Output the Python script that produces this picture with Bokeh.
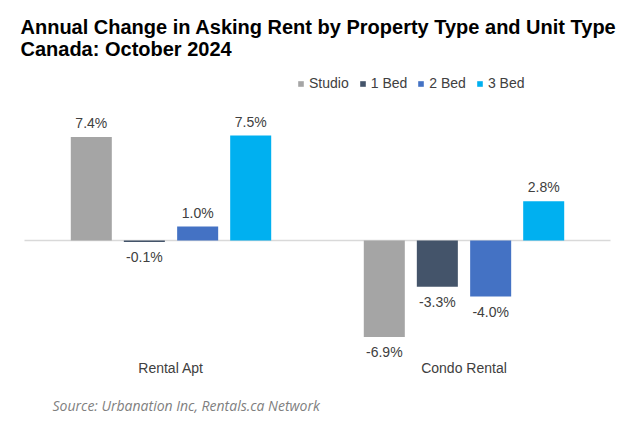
from bokeh.plotting import figure
from bokeh.models import (ColumnDataSource, FactorRange, Range1d, Label,
                          Legend, LegendItem, LabelSet)
from bokeh.core.properties import value
from bokeh.transform import dodge
from bokeh.embed import file_html
from bokeh.resources import INLINE

title_lines = ["Annual Change in Asking Rent by Property Type and Unit Type",
               "Canada: October 2024"]
source_note = "Source: Urbanation Inc, Rentals.ca Network"
categories = ["Rental Apt", "Condo Rental"]
unit_types = ["Studio", "1 Bed", "2 Bed", "3 Bed"]
studio = [7.4, -6.9]
one_bed = [-0.1, -3.3]
two_bed = [1.0, -4.0]
three_bed = [7.5, 2.8]
colors = ["#A5A5A5", "#44546A", "#4472C4", "#00B0F0"]
series = [studio, one_bed, two_bed, three_bed]
offsets = [-0.272, -0.091, 0.091, 0.272]

W, H = 640, 426
p = figure(x_range=FactorRange(factors=categories, range_padding=0.0819,
                               range_padding_units="absolute"),
           y_range=Range1d(-186 / 14.0, 240 / 14.0),
           width=W, height=H, frame_width=634, frame_height=H,
           min_border_left=0, min_border_right=6, min_border_top=0,
           min_border_bottom=0,
           output_backend="svg", toolbar_location=None, title=None)

p.outline_line_color = None
p.xgrid.grid_line_color = None
p.ygrid.grid_line_color = None
p.xaxis.visible = False
p.yaxis.visible = False

# zero line spanning the two category bands
zsrc = ColumnDataSource(dict(a=[categories[0]], b=[categories[-1]], y=[0]))
p.segment(x0=dodge("a", -0.5, range=p.x_range), x1=dodge("b", 0.5, range=p.x_range),
          y0="y", y1="y", source=zsrc, line_color="#D9D9D9", line_width=1.5)

lab_font = value("Liberation Sans")
items = []
for name, vals, col, off in zip(unit_types, series, colors, offsets):
    src = ColumnDataSource(dict(cat=categories, val=vals))
    r = p.vbar(x=dodge("cat", off, range=p.x_range), top="val", bottom=0,
               width=0.14, source=src, fill_color=col, line_color=None)
    items.append(LegendItem(label=name, renderers=[r]))
    pos_src = ColumnDataSource(dict(cat=[c for c, v in zip(categories, vals) if v >= 0],
                                    val=[v for v in vals if v >= 0],
                                    lab=[f"{v:.1f}%" for v in vals if v >= 0]))
    neg_src = ColumnDataSource(dict(cat=[c for c, v in zip(categories, vals) if v < 0],
                                    val=[v for v in vals if v < 0],
                                    lab=[f"{v:.1f}%" for v in vals if v < 0]))
    p.add_layout(LabelSet(x=dodge("cat", off, range=p.x_range), y="val", text="lab",
                          source=pos_src, text_align="center", text_baseline="bottom",
                          y_offset=6, text_font=lab_font,
                          text_font_size="14px", text_color="#404040"))
    p.add_layout(LabelSet(x=dodge("cat", off, range=p.x_range), y="val", text="lab",
                          source=neg_src, text_align="center", text_baseline="top",
                          y_offset=-7, text_font=lab_font,
                          text_font_size="14px", text_color="#404040"))

# category labels
csrc = ColumnDataSource(dict(cat=categories))
p.add_layout(LabelSet(x="cat", y=54, y_units="screen", text="cat", source=csrc,
                      text_align="center", text_baseline="alphabetic",
                      text_font=lab_font, text_font_size="14px",
                      text_color="#404040"))

legend = Legend(items=items, orientation="horizontal", location=(297, 335),
                glyph_width=7, glyph_height=7, label_standoff=5, spacing=10,
                padding=0, margin=0, border_line_color=None,
                background_fill_alpha=0,
                label_text_font="Liberation Sans", label_text_font_size="14px",
                label_text_color="#404040")
p.add_layout(legend, "center")

p.add_layout(Label(x=20, y=400, x_units="screen", y_units="screen",
                   text=title_lines[0], text_font="Liberation Sans",
                   text_font_size="20px", text_font_style="bold",
                   text_color="#000000", text_baseline="alphabetic"))
p.add_layout(Label(x=20, y=378, x_units="screen", y_units="screen",
                   text=title_lines[1], text_font="Liberation Sans",
                   text_font_size="20px", text_font_style="bold",
                   text_color="#000000", text_baseline="alphabetic"))
p.add_layout(Label(x=52, y=21, x_units="screen", y_units="screen",
                   text=source_note, text_font="Open Sans",
                   text_font_size="14px", text_font_style="italic",
                   text_color="#7F7F7F", text_baseline="alphabetic"))

open("out.html", "w").write(file_html(p, INLINE))
